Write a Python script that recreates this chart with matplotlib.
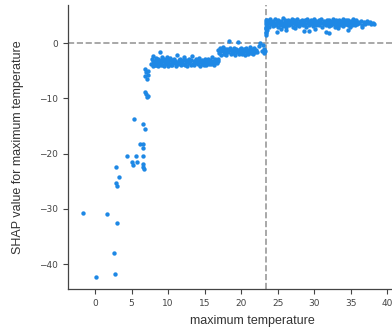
import matplotlib
matplotlib.use('Agg')
import matplotlib.pyplot as plt
import numpy as np

# 흩어진 점 (저온 구간)
sparse_x = [-1.65, 0.14, 1.7, 3.0, 2.6, 2.75, 2.9, 3.3, 2.85, 2.95,
            5.0, 5.2, 5.8, 6.6, 6.7, 6.6, 5.4, 6.6, 6.8, 6.1,
            6.6, 6.6, 4.4, 5.6, 6.6, 6.9, 7.0, 7.2, 6.9, 7.3,
            7.1, 6.9, 7.0, 7.1, 7.3]
sparse_y = [-30.7, -42.3, -31.0, -32.6, -38.0, -41.8, -22.5, -24.2, -25.4, -25.9,
            -21.6, -22.0, -21.5, -22.4, -22.8, -21.9, -13.7, -14.6, -15.6, -18.3,
            -18.2, -19.0, -20.4, -20.4, -20.4, -4.6, -5.3, -5.8, -6.0, -5.0,
            -6.5, -8.8, -9.3, -9.7, -9.5]

# 구간 A (약 7.7 ~ 16.8)
band_a_x = [7.7, 7.8, 7.9, 8.0, 8.0, 8.1, 8.2, 8.3, 8.3, 8.4,
            8.5, 8.6, 8.6, 8.7, 8.8, 8.9, 9.0, 9.0, 9.1, 9.2,
            9.3, 9.4, 9.4, 9.5, 9.6, 9.7, 9.8, 9.9, 10.0, 10.0,
            10.1, 10.2, 10.3, 10.4, 10.5, 10.6, 10.6, 10.7, 10.8, 10.9,
            11.0, 11.1, 11.2, 11.3, 11.4, 11.5, 11.6, 11.7, 11.8, 11.9,
            12.0, 12.1, 12.2, 12.3, 12.4, 12.5, 12.6, 12.7, 12.8, 12.9,
            13.0, 13.1, 13.2, 13.3, 13.4, 13.5, 13.6, 13.7, 13.8, 13.9,
            14.0, 14.1, 14.2, 14.3, 14.4, 14.5, 14.6, 14.7, 14.8, 14.9,
            15.0, 15.1, 15.2, 15.3, 15.4, 15.5, 15.6, 15.7, 15.8, 15.9,
            16.0, 16.1, 16.2, 16.3, 16.4, 16.5, 16.6, 16.7, 16.8, 16.8]
band_a_y = [-3.8, -2.9, -4.1, -3.3, -2.4, -3.6, -4.0, -3.1, -2.7, -3.9,
            -3.4, -2.8, -4.2, -3.2, -3.7, -1.7, -3.0, -4.0, -3.5, -2.6,
            -3.9, -3.3, -2.9, -4.1, -3.6, -3.0, -3.8, -2.5, -3.4, -4.2,
            -3.1, -3.7, -2.7, -3.9, -3.3, -3.0, -4.0, -3.5, -2.8, -3.6,
            -3.2, -4.1, -2.2, -3.4, -3.8, -3.0, -3.6, -2.9, -4.0, -3.3,
            -3.7, -3.1, -2.6, -3.9, -3.4, -3.0, -4.1, -3.5, -2.8, -3.6,
            -3.3, -3.9, -3.0, -2.3, -3.7, -3.2, -4.0, -3.4, -2.9, -3.6,
            -3.1, -3.8, -3.3, -2.7, -4.1, -3.5, -3.0, -3.7, -3.2, -3.9,
            -2.8, -3.4, -4.0, -3.1, -3.6, -2.9, -3.8, -3.3, -3.0, -3.7,
            -2.6, -3.5, -3.2, -3.9, -2.9, -3.4, -3.1, -3.6, -2.8, -3.3]

# 구간 B (약 16.9 ~ 23.3)
band_b_x = [16.9, 17.0, 17.1, 17.2, 17.3, 17.4, 17.5, 17.6, 17.7, 17.8,
            17.9, 18.0, 18.1, 18.2, 18.3, 18.4, 18.5, 18.6, 18.7, 18.8,
            18.9, 19.0, 19.1, 19.2, 19.3, 19.4, 19.5, 19.6, 19.7, 19.8,
            19.9, 20.0, 20.1, 20.2, 20.3, 20.4, 20.5, 20.6, 20.7, 20.8,
            20.9, 21.0, 21.1, 21.2, 21.3, 21.4, 21.5, 21.6, 21.7, 21.8,
            21.9, 22.0, 22.2, 22.4, 22.6, 22.8, 23.0, 23.1, 23.2, 23.3]
band_b_y = [-1.2, -1.8, -0.9, -1.5, -2.1, -1.3, -0.7, -1.9, -1.4, -1.0,
            -1.7, -2.2, -1.1, -1.6, 0.4, -1.3, -0.8, -2.0, -1.5, -1.2,
            -1.8, -0.9, -1.4, -2.1, -1.0, -1.6, -1.3, 0.2, -1.9, -1.1,
            -1.5, -0.8, -2.0, -1.3, -1.7, -1.0, -1.4, -2.2, -0.9, -1.6,
            -1.2, -1.9, -1.5, -0.7, -1.8, -1.1, -1.4, -2.0, -1.3, -0.9,
            -1.7, -1.2, -1.6, -0.6, 0.0, -1.4, -0.3, -1.8, -1.0, -1.5]

# 경계 (약 23.4)
edge_x = [23.4, 23.4, 23.4, 23.45, 23.45, 23.4, 23.45, 23.4, 23.45]
edge_y = [1.5, 2.0, 2.5, 3.0, 3.4, 3.8, 4.1, 1.8, 2.8]

# 구간 C (약 23.5 ~ 38.2)
band_c_x = [23.5, 23.6, 23.7, 23.8, 23.9, 24.0, 24.1, 24.2, 24.3, 24.4,
            24.5, 24.6, 24.7, 24.8, 24.9, 25.0, 25.1, 25.2, 25.3, 25.4,
            25.5, 25.6, 25.7, 25.8, 25.9, 26.0, 26.1, 26.2, 26.3, 26.4,
            26.5, 26.6, 26.7, 26.8, 26.9, 27.0, 27.1, 27.2, 27.3, 27.4,
            27.5, 27.6, 27.7, 27.8, 27.9, 28.0, 28.1, 28.2, 28.3, 28.4,
            28.5, 28.6, 28.7, 28.8, 28.9, 29.0, 29.1, 29.2, 29.3, 29.4,
            29.5, 29.6, 29.7, 29.8, 29.9, 30.0, 30.1, 30.2, 30.3, 30.4,
            30.5, 30.6, 30.7, 30.8, 30.9, 31.0, 31.1, 31.2, 31.3, 31.4,
            31.5, 31.6, 31.7, 31.8, 31.9, 32.0, 32.1, 32.2, 32.3, 32.4,
            32.5, 32.6, 32.7, 32.8, 32.9, 33.0, 33.1, 33.2, 33.3, 33.4,
            33.5, 33.6, 33.7, 33.8, 33.9, 34.0, 34.1, 34.2, 34.3, 34.4,
            34.5, 34.6, 34.7, 34.8, 34.9, 35.0, 35.1, 35.2, 35.3, 35.4,
            35.5, 35.6, 35.7, 35.8, 35.9, 36.0, 36.2, 36.4, 36.6, 36.8,
            37.0, 37.2, 37.4, 37.6, 37.8, 38.0, 38.2, 23.6, 24.9, 25.5,
            26.2, 27.4, 28.6, 29.3, 30.1, 31.6, 32.0, 33.2, 34.6, 36.5]
band_c_y = [3.2, 4.1, 3.6, 2.9, 3.8, 4.3, 3.4, 3.9, 3.1, 4.0,
            3.7, 3.3, 4.4, 3.5, 3.9, 3.0, 4.2, 3.6, 3.3, 4.0,
            3.8, 3.4, 4.5, 3.1, 3.7, 4.1, 3.5, 2.9, 3.9, 4.2,
            3.6, 3.2, 4.0, 3.8, 3.4, 4.3, 3.0, 3.7, 4.1, 3.5,
            3.9, 3.3, 4.4, 3.6, 3.1, 4.0, 3.8, 3.4, 4.2, 3.7,
            3.2, 3.9, 4.1, 3.5, 3.0, 4.3, 3.6, 3.8, 3.3, 4.0,
            3.7, 4.2, 3.4, 3.9, 3.1, 4.4, 3.6, 3.2, 4.0, 3.8,
            3.5, 4.1, 3.3, 3.9, 3.7, 4.3, 3.0, 3.6, 4.0, 3.4,
            3.8, 3.2, 4.2, 3.5, 3.9, 3.1, 4.1, 3.7, 3.3, 4.0,
            3.6, 4.3, 3.4, 3.8, 3.0, 4.2, 3.5, 3.9, 3.2, 4.1,
            3.7, 3.3, 4.0, 3.6, 4.4, 3.1, 3.8, 3.5, 4.2, 3.4,
            3.9, 3.2, 4.1, 3.6, 3.0, 4.0, 3.7, 3.3, 4.3, 3.5,
            3.8, 3.2, 4.1, 3.6, 3.4, 3.9, 3.7, 4.0, 3.3, 3.8,
            3.5, 4.0, 3.6, 3.9, 3.4, 3.7, 3.5, 2.3, 2.0, 2.6,
            2.4, 2.8, 2.2, 2.2, 2.5, 2.0, 1.8, 2.7, 2.4, 2.9]

x = np.concatenate([sparse_x, band_a_x, band_b_x, edge_x, band_c_x])
y = np.concatenate([sparse_y, band_a_y, band_b_y, edge_y, band_c_y])

split_x = 23.4
xticks = [0, 5, 10, 15, 20, 25, 30, 35, 40, 45]
yticks = [0, -10, -20, -30, -40]

fig = plt.figure(figsize=(3.92, 3.31), dpi=100)
# 오른쪽은 원본처럼 잘려 있음
ax = fig.add_axes([0.1735, 0.127, 0.939, 0.858])

ax.scatter(x, y, s=10, color='#1E88E5', linewidths=0, zorder=3)
ax.axhline(0, color='#999999', linestyle='--', linewidth=1.2, zorder=2)
ax.axvline(split_x, color='#999999', linestyle='--', linewidth=1.2, zorder=2)

ax.set_xlim(-3.7, 46.7)
ax.set_ylim(-44.5, 6.9)
ax.set_xticks(xticks)
ax.set_yticks(yticks)

ax.spines['top'].set_visible(False)
ax.spines['right'].set_visible(False)
for s in ['left', 'bottom']:
    ax.spines[s].set_color('#444444')
    ax.spines[s].set_linewidth(0.9)
ax.tick_params(colors='#444444', labelsize=6.5, length=3.5, width=0.8)

ax.set_xlabel('maximum temperature', fontsize=9, color='#333333',
              family='Liberation Sans', labelpad=5)
ax.set_ylabel('SHAP value for maximum temperature', fontsize=9, color='#333333',
              family='Liberation Sans', labelpad=11)

fig.savefig('out.png', dpi=100)
